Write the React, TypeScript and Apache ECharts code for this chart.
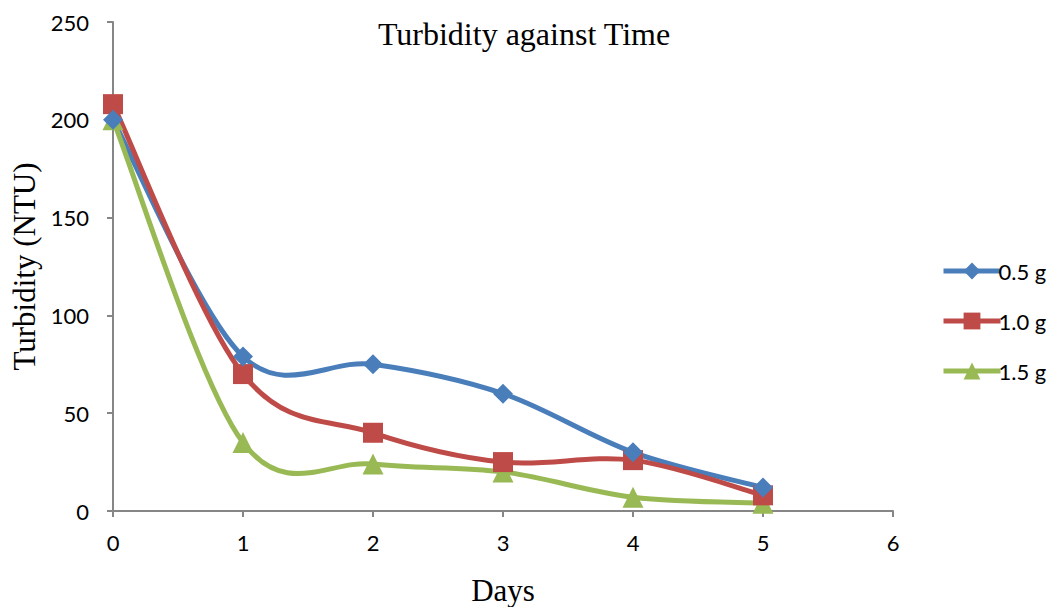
import React, { useEffect, useRef } from "react";
import * as echarts from "echarts";

const days = [0, 1, 2, 3, 4, 5];
const series05 = [200, 79, 75, 60, 30, 12];
const series10 = [208, 70, 40, 25, 26, 8];
const series15 = [200, 35, 24, 20, 7, 4];
const seriesNames = ["0.5 g", "1.0 g", "1.5 g"];
const colors = ["#4A7EBB", "#BE4B48", "#98B954"];

export default function App() {
  const ref = useRef<HTMLDivElement>(null);
  useEffect(() => {
    if (!ref.current) return;
    const chart = echarts.init(ref.current, undefined, { renderer: "svg" });
    const mk = (vals: number[]) => days.map((d, i) => [d, vals[i]]);
    const symbols = ["diamond", "rect", "triangle"];
    const sizes = [20, 20, 21];
    const all = [series05, series10, series15];

    const curveSeries = all.map((vals, si) => ({
      type: "custom",
      name: seriesNames[si] + " curve",
      data: mk(vals),
      encode: { x: 0, y: 1 },
      z: 1,
      silent: true,
      renderItem: (params: any, api: any) => {
        const i = params.dataIndex;
        const n = vals.length;
        if (i >= n - 1) return null;
        const pt = (k: number) => {
          const kk = Math.max(0, Math.min(n - 1, k));
          return api.coord([days[kk], vals[kk]]);
        };
        const p0 = pt(i - 1);
        const p1 = pt(i);
        const p2 = pt(i + 1);
        const p3 = pt(i + 2);
        return {
          type: "bezierCurve",
          shape: {
            x1: p1[0],
            y1: p1[1],
            x2: p2[0],
            y2: p2[1],
            cpx1: p1[0] + (p2[0] - p0[0]) / 6,
            cpy1: p1[1] + (p2[1] - p0[1]) / 6,
            cpx2: p2[0] - (p3[0] - p1[0]) / 6,
            cpy2: p2[1] - (p3[1] - p1[1]) / 6,
          },
          style: { stroke: colors[si], lineWidth: 5, fill: "none", lineCap: "round" },
        };
      },
    }));

    const markerSeries = seriesNames.map((name, i) => ({
      name,
      type: "line",
      data: mk(all[i]),
      symbol: symbols[i],
      symbolSize: sizes[i],
      color: colors[i],
      lineStyle: { width: 5, color: colors[i], opacity: 0 },
      itemStyle: { color: colors[i] },
      z: 5 - i,
    }));

    chart.setOption({
      animation: false,
      title: {
        text: "Turbidity against Time",
        left: 519,
        textAlign: "center",
        top: 13,
        textStyle: { fontFamily: "Liberation Serif", fontSize: 32, fontWeight: "normal", color: "#000" },
      },
      legend: {
        orient: "vertical",
        left: 936,
        top: 255,
        itemWidth: 57,
        itemHeight: 21,
        itemGap: 28,
        lineStyle: { opacity: 1, width: 5 },
        textStyle: { fontFamily: "Lato", fontSize: 22, color: "#000", padding: [0, 0, 0, -7] },
        data: seriesNames,
      },
      grid: { left: 113, right: 165, top: 22, bottom: 96, containLabel: false, outerBoundsMode: "none" },
      xAxis: {
        type: "value",
        min: 0,
        max: 6,
        interval: 1,
        name: "Days",
        nameLocation: "middle",
        nameGap: 64,
        nameTextStyle: { fontFamily: "Liberation Serif", fontSize: 31, color: "#000" },
        axisLine: { lineStyle: { color: "#868686", width: 2 } },
        axisTick: { show: true, length: 6, lineStyle: { color: "#868686", width: 2 } },
        axisLabel: { fontFamily: "Lato", fontSize: 22, color: "#000", margin: 20 },
        splitLine: { show: false },
      },
      yAxis: {
        type: "value",
        min: 0,
        max: 250,
        interval: 50,
        name: "Turbidity (NTU)",
        nameLocation: "middle",
        nameGap: 73,
        nameTextStyle: { fontFamily: "Liberation Serif", fontSize: 31, color: "#000" },
        axisLine: { show: true, lineStyle: { color: "#868686", width: 2 } },
        axisTick: { show: true, length: 6, lineStyle: { color: "#868686", width: 2 } },
        axisLabel: { fontFamily: "Lato", fontSize: 22, color: "#000", margin: 24 },
        splitLine: { show: false },
      },
      series: [...curveSeries, ...markerSeries],
    });
    return () => chart.dispose();
  }, []);
  return <div ref={ref} style={{ width: 1058, height: 607, position: "absolute", left: 0, top: 0, background: "#fff" }} />;
}
